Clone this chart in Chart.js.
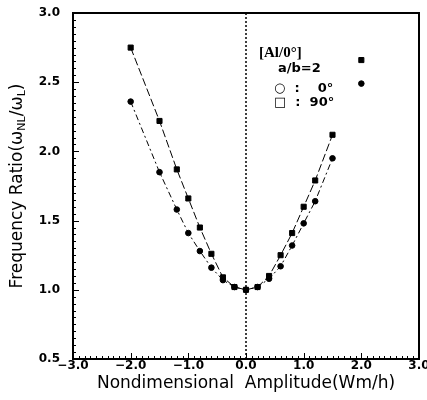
<!DOCTYPE html>
<html>
<head>
<meta charset="utf-8">
<script src="https://cdn.jsdelivr.net/npm/chart.js@4"></script>
<style>
    html, body { margin: 0; padding: 0; background: #fff; }
    #wrap { width: 427px; height: 400px; }
</style>
</head>
<body>
<div id="wrap"><canvas id="freq-chart" width="427" height="400"></canvas></div>
<script>

// amplitude values (Wm/h)
const amplitudes = [-2.0, -1.5, -1.2, -1.0, -0.8, -0.6, -0.4, -0.2, 0.0, 0.2, 0.4, 0.6, 0.8, 1.0, 1.2, 1.5];
const ratio0deg = [2.36, 1.85, 1.58, 1.41, 1.28, 1.16, 1.07, 1.02, 1.00, 1.02, 1.08, 1.17, 1.32, 1.48, 1.64, 1.95];
const ratio90deg = [2.75, 2.22, 1.87, 1.66, 1.45, 1.26, 1.09, 1.02, 1.00, 1.02, 1.10, 1.25, 1.41, 1.60, 1.79, 2.12];

// lone points at the right end
const endAmplitude = [2.0];
const end0deg = [2.49];
const end90deg = [2.66];

const xTicks = [-3.0, -2.0, -1.0, 0.0, 1.0, 2.0, 3.0];
const yTicks = [0.5, 1.0, 1.5, 2.0, 2.5, 3.0];

const labelFont = "DejaVu Sans, sans-serif";

function toPoints(xs, ys) {
    return xs.map((x, i) => ({ x: x, y: ys[i] }));
}

function fmt(v) {
    return v.toFixed(1).replace('-', '\u2212');
}

// frame, inward ticks, dotted zero line, in-plot key and y title
const decorations = {
    id: 'decorations',
    beforeDatasetsDraw(chart) {
        const ctx = chart.ctx;
        const area = chart.chartArea;
        const xs = chart.scales.x;

        ctx.save();
        ctx.strokeStyle = '#000';
        ctx.lineWidth = 1.5;
        ctx.setLineDash([2, 2]);
        const x0 = xs.getPixelForValue(0);
        ctx.beginPath();
        ctx.moveTo(x0, area.top);
        ctx.lineTo(x0, area.bottom);
        ctx.stroke();
        ctx.restore();
    },
    afterDraw(chart) {
        const ctx = chart.ctx;
        const area = chart.chartArea;
        const xs = chart.scales.x;
        const ys = chart.scales.y;

        ctx.save();
        ctx.strokeStyle = '#000';
        ctx.lineWidth = 2;
        ctx.strokeRect(area.left, area.top, area.right - area.left, area.bottom - area.top);

        ctx.lineWidth = 1;
        for (let i = 0; i <= 60; i++) {
            const v = -3 + i * 0.1;
            const px = Math.round(xs.getPixelForValue(v)) + 0.5;
            const len = (i % 10 === 0) ? 6 : 3;
            ctx.beginPath();
            ctx.moveTo(px, area.bottom);
            ctx.lineTo(px, area.bottom - len);
            ctx.stroke();
        }
        for (let i = 0; i <= 50; i++) {
            const v = 0.5 + i * 0.05;
            const py = Math.round(ys.getPixelForValue(v)) + 0.5;
            const len = (i % 10 === 0) ? 6 : 3;
            ctx.beginPath();
            ctx.moveTo(area.left, py);
            ctx.lineTo(area.left + len, py);
            ctx.stroke();
        }

        // key inside the plot
        ctx.fillStyle = '#000';
        ctx.textBaseline = 'middle';
        ctx.font = 'bold 15px "Liberation Serif", serif';
        ctx.fillText('[Al/0\u00b0]', 259, 53);
        ctx.font = 'bold 13px ' + labelFont;
        ctx.fillText('a/b=2', 278, 69);
        ctx.fillText('\u25cb  :    0\u00b0', 274, 89);
        ctx.fillText('\u25a1  :  90\u00b0', 274, 103);

        // y axis title with subscripts
        ctx.translate(18, (area.top + area.bottom) / 2);
        ctx.rotate(-Math.PI / 2);
        const big = '17px ' + labelFont;
        const small = '11px ' + labelFont;
        const parts = [
            ['Frequency Ratio(\u03c9', big, 0],
            ['NL', small, 4],
            ['/\u03c9', big, 0],
            ['L', small, 4],
            [')', big, 0]
        ];
        let total = 0;
        parts.forEach(p => { ctx.font = p[1]; total += ctx.measureText(p[0]).width; });
        let cx = -total / 2;
        parts.forEach(p => {
            ctx.font = p[1];
            ctx.fillText(p[0], cx, p[2]);
            cx += ctx.measureText(p[0]).width;
        });
        ctx.restore();
    }
};

const ctx = document.getElementById("freq-chart").getContext("2d");

new Chart(ctx, {
    type: 'scatter',
    data: {
        datasets: [{
            label: '0\u00b0',
            data: toPoints(amplitudes, ratio0deg),
            showLine: true,
            borderColor: '#000',
            backgroundColor: '#000',
            borderWidth: 1,
            borderDash: [6, 3, 2, 3],
            pointStyle: 'circle',
            pointRadius: 2.8
        }, {
            label: '90\u00b0',
            data: toPoints(amplitudes, ratio90deg),
            showLine: true,
            borderColor: '#000',
            backgroundColor: '#000',
            borderWidth: 1,
            borderDash: [8, 3],
            pointStyle: 'rect',
            pointRadius: 3.6
        }, {
            label: '0\u00b0 end',
            data: toPoints(endAmplitude, end0deg),
            showLine: false,
            backgroundColor: '#000',
            borderColor: '#000',
            pointStyle: 'circle',
            pointRadius: 2.8
        }, {
            label: '90\u00b0 end',
            data: toPoints(endAmplitude, end90deg),
            showLine: false,
            backgroundColor: '#000',
            borderColor: '#000',
            pointStyle: 'rect',
            pointRadius: 3.6
        }]
    },
    options: {
        responsive: false,
        animation: false,
        layout: {
            padding: { left: 0, right: 8, top: 13, bottom: 0 }
        },
        plugins: {
            legend: { display: false },
            tooltip: { enabled: false }
        },
        scales: {
            x: {
                type: 'linear',
                min: -3,
                max: 3,
                afterBuildTicks: scale => {
                    scale.ticks = xTicks.map(v => ({ value: v }));
                },
                afterFit: scale => {
                    scale.height = 41;
                    scale.paddingLeft = 0;
                    scale.paddingRight = 0;
                },
                grid: { display: false, drawTicks: false },
                border: { display: false },
                ticks: {
                    padding: 0,
                    color: '#000',
                    maxRotation: 0,
                    autoSkip: false,
                    font: { family: labelFont, size: 12, weight: 'bold' },
                    callback: v => fmt(v)
                },
                title: {
                    display: true,
                    text: 'Nondimensional  Amplitude(Wm/h)',
                    color: '#000',
                    padding: { top: 0, bottom: 6 },
                    font: { family: labelFont, size: 17 }
                }
            },
            y: {
                type: 'linear',
                min: 0.5,
                max: 3.0,
                afterBuildTicks: scale => {
                    scale.ticks = yTicks.map(v => ({ value: v }));
                },
                afterFit: scale => {
                    scale.width = 73;
                    scale.paddingTop = 0;
                    scale.paddingBottom = 0;
                },
                grid: { display: false, drawTicks: false },
                border: { display: false },
                ticks: {
                    padding: 13,
                    color: '#000',
                    autoSkip: false,
                    font: { family: labelFont, size: 12, weight: 'bold' },
                    callback: v => fmt(v)
                }
            }
        }
    },
    plugins: [decorations]
});
</script>
</body>
</html>
